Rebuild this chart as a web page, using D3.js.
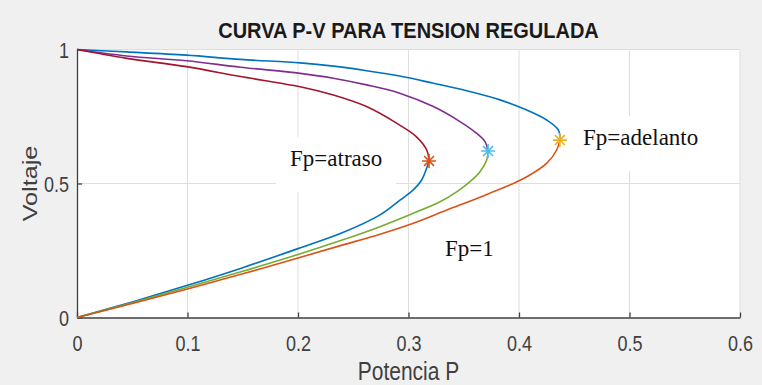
<!DOCTYPE html>
<html lang="es">
<head>
<meta charset="UTF-8">
<title>Curva P-V</title>
<script src="https://d3js.org/d3.v7.min.js"></script>
<style>
  body { margin: 0; background: #f0f0f0; }
  .axis path, .axis line { stroke: #404040; stroke-width: 1.3; }
  .axis text { fill: #404040; font-family: "Liberation Sans", Arial, sans-serif; font-size: 18px; }
  .grid line { stroke: #dedede; stroke-width: 1; }
  .anno { font-family: "Liberation Serif", "Times New Roman", serif; font-size: 23px; fill: #111; }
</style>
</head>
<body>
<svg id="chart" width="762" height="385"></svg>
<script>
// tick values / labels
const xTicks = [0, 0.1, 0.2, 0.3, 0.4, 0.5, 0.6];
const xTickLabels = ["0", "0.1", "0.2", "0.3", "0.4", "0.5", "0.6"];
const yTicks = [0, 0.5, 1];
const yTickLabels = ["0", "0.5", "1"];

// upper branches (V from 1 down to the nose)
const pAtrasoSup = [0, 0.045, 0.099, 0.148, 0.202, 0.232, 0.262, 0.292, 0.307, 0.3165, 0.3186];
const vAtrasoSup = [1, 0.967, 0.936, 0.899, 0.861, 0.830, 0.787, 0.718, 0.675, 0.625, 0.584];
const pUnoSup = [0, 0.045, 0.099, 0.148, 0.202, 0.232, 0.262, 0.292, 0.3225, 0.3466, 0.3617, 0.3692, 0.372];
const vUnoSup = [1, 0.976, 0.958, 0.934, 0.911, 0.893, 0.868, 0.837, 0.787, 0.731, 0.687, 0.656, 0.621];
const pAdelSup = [0, 0.045, 0.099, 0.148, 0.202, 0.232, 0.262, 0.292, 0.3225, 0.3527, 0.3828, 0.407, 0.425, 0.4356, 0.437];
const vAdelSup = [1, 0.991, 0.979, 0.963, 0.950, 0.938, 0.921, 0.901, 0.874, 0.846, 0.812, 0.774, 0.737, 0.700, 0.662];

// lower branches (from the nose down to 0)
const pAtrasoInf = [0.3186, 0.3164, 0.3119, 0.3044, 0.2923, 0.2742, 0.24, 0.2, 0.15, 0.1, 0.05, 0];
const vAtrasoInf = [0.584, 0.557, 0.513, 0.476, 0.438, 0.383, 0.316, 0.257, 0.186, 0.120, 0.058, 0];
const pUnoInf = [0.372, 0.3708, 0.3647, 0.3557, 0.3436, 0.3285, 0.3044, 0.2742, 0.24, 0.2, 0.15, 0.1, 0.05, 0];
const vUnoInf = [0.621, 0.588, 0.544, 0.507, 0.469, 0.432, 0.389, 0.339, 0.289, 0.235, 0.1725, 0.1125, 0.055, 0];
const pAdelInf = [0.437, 0.4341, 0.425, 0.407, 0.3949, 0.3647, 0.3346, 0.3044, 0.2742, 0.24, 0.2, 0.15, 0.1, 0.05, 0];
const vAdelInf = [0.662, 0.625, 0.575, 0.525, 0.500, 0.449, 0.401, 0.352, 0.311, 0.270, 0.222, 0.163, 0.106, 0.052, 0];

// critical points (noses)
const noseP = [0.3186, 0.372, 0.437];
const noseV = [0.584, 0.621, 0.662];

const labels = ["Fp=atraso", "Fp=1", "Fp=adelanto"];

const svg = d3.select("#chart");
const mLeft = 77, mRight = 740, mTop = 49.5, mBottom = 317.5;

const x = d3.scaleLinear().domain([0, 0.6]).range([mLeft, mRight]);
const y = d3.scaleLinear().domain([0, 1]).range([mBottom, mTop]);

svg.append("rect").attr("width", 762).attr("height", 385).attr("fill", "#f0f0f0");
svg.append("rect")
    .attr("x", mLeft).attr("y", mTop)
    .attr("width", mRight - mLeft).attr("height", mBottom - mTop)
    .attr("fill", "#fff");

// grid
const grid = svg.append("g").attr("class", "grid");
grid.selectAll(".gx").data(xTicks.slice(1)).enter().append("line")
    .attr("x1", d => x(d)).attr("x2", d => x(d))
    .attr("y1", mTop).attr("y2", mBottom);
grid.selectAll(".gy").data(yTicks.slice(1)).enter().append("line")
    .attr("x1", mLeft).attr("x2", mRight)
    .attr("y1", d => y(d)).attr("y2", d => y(d));

// text annotations with white boxes (they hide the grid behind them)
const annoPos = [[0.1928, 0.565], [0.333, 0.2295], [0.458, 0.644]];
const anno = svg.append("g");
labels.forEach((t, i) => {
    const bx = anno.append("rect").attr("fill", "#fff");
    const tx = anno.append("text").attr("class", "anno")
        .attr("x", x(annoPos[i][0])).attr("y", y(annoPos[i][1]))
        .text(t);
    const bb = tx.node().getBBox();
    bx.attr("x", bb.x - 14).attr("y", y(annoPos[i][1]) - 29)
      .attr("width", bb.width + 28).attr("height", 55);
});

// axes
const xAxis = svg.append("g").attr("class", "axis")
    .attr("transform", "translate(0," + mBottom + ")")
    .call(d3.axisBottom(x).tickValues(xTicks).tickFormat((d, i) => xTickLabels[i])
        .tickSizeInner(-5).tickSizeOuter(0));
xAxis.selectAll("text").attr("y", 0).attr("dy", null)
    .attr("transform", "translate(0,33) scale(1,1.2)");

const yAxis = svg.append("g").attr("class", "axis")
    .attr("transform", "translate(" + mLeft + ",0)")
    .call(d3.axisLeft(y).tickValues(yTicks).tickFormat((d, i) => yTickLabels[i])
        .tickSizeInner(-5).tickSizeOuter(0));
yAxis.selectAll("text").attr("x", 0).attr("dy", null)
    .attr("transform", "translate(-8,7.7) scale(1,1.2)");

// curves
const line = d3.line()
    .x(d => x(d[0])).y(d => y(d[1]))
    .curve(d3.curveCatmullRom.alpha(0.5));
const zip = (p, v) => p.map((d, i) => [d, v[i]]);

const branches = [
    { p: pAtrasoInf, v: vAtrasoInf, color: "#0072BD" },
    { p: pUnoInf, v: vUnoInf, color: "#77AC30" },
    { p: pAdelInf, v: vAdelInf, color: "#D95319" },
    { p: pAdelSup, v: vAdelSup, color: "#0072BD" },
    { p: pUnoSup, v: vUnoSup, color: "#7E2F8E" },
    { p: pAtrasoSup, v: vAtrasoSup, color: "#A2142F" }
];
svg.append("g").selectAll("path").data(branches).enter().append("path")
    .attr("d", d => line(zip(d.p, d.v)))
    .attr("fill", "none")
    .attr("stroke", d => d.color)
    .attr("stroke-width", 1.6);

// asterisk markers at the noses
const markColors = ["#D95319", "#4DBEEE", "#EDB120"];
const star = r => {
    const a = r * Math.SQRT1_2;
    return "M" + (-r) + ",0L" + r + ",0M0," + (-r) + "L0," + r +
        "M" + (-a) + "," + (-a) + "L" + a + "," + a +
        "M" + (-a) + "," + a + "L" + a + "," + (-a);
};
svg.append("g").selectAll("path").data(noseP).enter().append("path")
    .attr("transform", (d, i) => "translate(" + x(d) + "," + y(noseV[i]) + ")")
    .attr("d", star(7))
    .attr("stroke", (d, i) => markColors[i])
    .attr("stroke-width", 1.6)
    .attr("fill", "none");

// title and axis labels
svg.append("text")
    .attr("transform", "translate(" + (mLeft + mRight) / 2 + ",38.3) scale(1,1.1)")
    .attr("text-anchor", "middle")
    .style("font-family", "'Liberation Sans', Arial, sans-serif")
    .style("font-weight", "bold").style("font-size", "20px").style("fill", "#1a1a1a")
    .text("CURVA P-V PARA TENSION REGULADA");

svg.append("text")
    .attr("transform", "translate(" + (mLeft + mRight) / 2 + ",380) scale(1,1.2)")
    .attr("text-anchor", "middle")
    .style("font-family", "'Liberation Sans', Arial, sans-serif")
    .style("font-size", "21px").style("fill", "#404040")
    .text("Potencia P");

svg.append("text")
    .attr("transform", "translate(37.3,183.5) rotate(-90) scale(1.2,1)")
    .attr("text-anchor", "middle")
    .style("font-family", "'Liberation Sans', Arial, sans-serif")
    .style("font-size", "21px").style("fill", "#404040")
    .text("Voltaje");
</script>
</body>
</html>
